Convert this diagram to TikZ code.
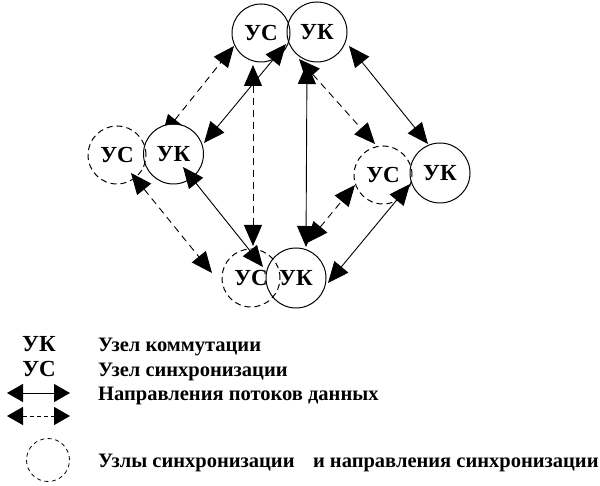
\documentclass[tikz,border=0pt]{standalone}
\usepackage{fontspec}
\setmainfont{Liberation Serif}
\usetikzlibrary{arrows.meta,calc}
\pgfdeclarelayer{back}
\pgfdeclarelayer{mid}
\pgfsetlayers{back,mid,main}
\begin{document}
\begin{tikzpicture}[x=1pt,y=-1pt,
  kc/.style={circle,draw,line width=1pt,minimum size=60pt,inner sep=0pt,font=\bfseries\fontsize{23}{26}\selectfont},
  sc/.style={kc,minimum size=58pt},
  scd/.style={sc,dash pattern=on 6pt off 4pt},
  tipb/.tip={Triangle[length=21pt,width=18pt]},
  link/.style={line width=0.9pt,tipb-tipb},
  dlink/.style={link,dash pattern=on 7pt off 5pt},
  legtip/.tip={Triangle[length=16pt,width=18pt]},
  leg/.style={line width=0.9pt,legtip-legtip},
  lbl/.style={anchor=base west,font=\bfseries\fontsize{20.5}{24}\selectfont,inner sep=0pt},
  abbr/.style={anchor=base,font=\bfseries\fontsize{23}{26}\selectfont,inner sep=0pt}]
\useasboundingbox (0,0) rectangle (600,486);

% nodes
\node[sc]  (topS)   at (261,33)  {УС};
\node[kc]  (topK)   at (317,32)  {УК};
\node[scd] (leftS)  at (117,155) {УС};
\node[kc]  (leftK)  at (173.5,154) {УК};
\node[scd] (rightS) at (383,175) {УС};
\node[kc]  (rightK) at (440,173) {УК};
\node[scd] (botS)   at (251,278) {УС};
\node[kc]  (botK)   at (296,278) {УК};

% white discs under circle borders
\begin{pgfonlayer}{mid}
  \foreach \n in {topS,topK,leftS,leftK,rightS,rightK,botS,botK}
    \fill[white] (\n) circle[radius=29.5pt];
\end{pgfonlayer}

% connectors partly hidden
\begin{pgfonlayer}{back}
  \draw[dlink] ($(leftK)+(-11.5,-18)$) -- ($(topS)+(-27,13)$);
  \draw[dlink] ($(topK)+(-18,27)$) -- ($(rightS)+(-8,-31)$);
  \draw[dlink] ($(botK)+(11,-35)$) -- ($(rightS)+(-28,10)$);
\end{pgfonlayer}

% connectors
\draw[link]  ($(topS)+(25,11)$) -- ($(leftK)+(30.5,-11)$);
\draw[dlink] ($(topS)+(-8,32)$) -- ($(botS)+(2,-32)$);
\draw[link]  ($(topK)+(-10,31)$) -- ($(botK)+(10,-31)$);
\draw[link]  ($(topK)+(32,14)$) -- ($(rightK)+(-12,-29)$);
\draw[dlink] ($(leftS)+(14,18)$) -- ($(botS)+(-39,-5)$);
\draw[link]  ($(leftK)+(9.5,13)$) -- ($(botS)+(12,-11)$);
\draw[link]  ($(botK)+(32,5)$) -- ($(rightK)+(-30,11)$);

% legend
\node[abbr] (lk) at (39,352) {УК};
\node[abbr] (ls) at (39,377) {УС};
\coordinate (la1) at (7,393);
\coordinate (la2) at (70,393);
\draw[leg] (la1) -- (la2);
\coordinate (lb1) at (7,416);
\coordinate (lb2) at (70,416);
\draw[leg,dash pattern=on 4pt off 3pt] (lb1) -- (lb2);
\node[circle,draw,line width=0.8pt,dash pattern=on 4pt off 3.5pt,minimum size=43pt,inner sep=0pt] (lc) at (48,460) {};
\node[lbl] (t1) at (98,352) {Узел коммутации};
\node[lbl] (t2) at (98,377) {Узел синхронизации};
\node[lbl] (t3) at (98,400) {Направления потоков данных};
\node[lbl] (t4) at (98,467) {Узлы синхронизации\hspace{0.9em}и направления синхронизации};
\end{tikzpicture}
\end{document}
